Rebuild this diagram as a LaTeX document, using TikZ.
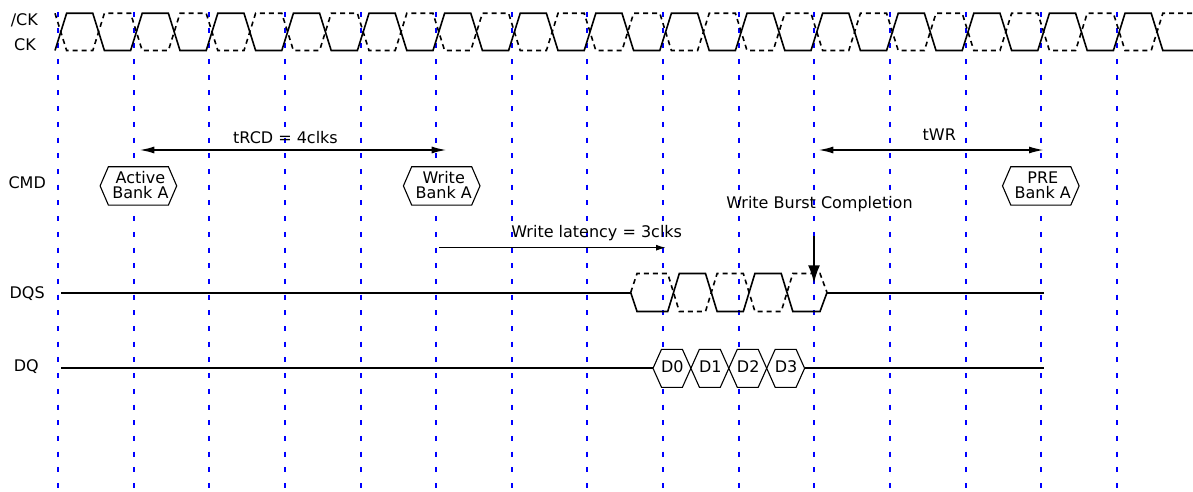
\documentclass[tikz,border=0pt]{standalone}
\usepackage{fontspec}
\setmainfont{DejaVu Sans}
\usetikzlibrary{arrows.meta}
\begin{document}
\begin{tikzpicture}[x=1pt,y=-1pt,
  gridline/.style={draw=blue, line width=2pt, dash pattern=on 5pt off 10.7pt},
  wave/.style={line width=1.6pt, line join=miter},
  wavedash/.style={wave, dash pattern=on 5pt off 4pt},
  flat/.style={line width=2pt},
  hexbox/.style={draw, line width=1.1pt, fill=white, line join=miter},
  lbl/.style={inner sep=0pt, anchor=base, font=\fontsize{16}{15}\selectfont},
  hextext/.style={inner sep=0pt, anchor=center, align=center, font=\fontsize{16}{15}\selectfont},
  dimarrow/.style={line width=1.8pt, {Latex[length=15pt,width=7pt]}-{Latex[length=15pt,width=7pt]}},
  onearrow/.style={line width=1.3pt, -{Latex[length=10pt,width=6pt]}},
  downarrow/.style={line width=2pt, -{Latex[length=18pt,width=12pt]}}
]
\useasboundingbox (0,0) rectangle (1193,492);
\fill[white] (0,0) rectangle (1193,492);

% grid lines
\foreach \k in {0,...,14}{
  \coordinate (gt\k) at ({58+75.64*\k},12);
  \coordinate (gb\k) at ({58+75.64*\k},492);
  \draw[gridline] (gt\k) -- (gb\k);
}

% clocks
\def\Tp{75.6}\def\rz{60.8}\def\hw{5.8}\def\hi{13.3}\def\lo{50.5}
\coordinate (ckS) at (55,\lo);
\coordinate (ckE) at (1193,\lo);
\coordinate (nckS) at (55,\hi);
\coordinate (nckE) at (1193,\hi);
\draw[wave] (ckS) \foreach \k in {0,...,14}{
   -- ({\rz+\Tp*\k+\hw},\hi) -- ({\rz+\Tp*\k+37.8-\hw},\hi)
   -- ({\rz+\Tp*\k+37.8+\hw},\lo) -- ({\rz+\Tp*(\k+1)-\hw},\lo) } -- (ckE);
\draw[wavedash] (nckS) \foreach \k in {0,...,14}{
   -- ({\rz+\Tp*\k+\hw},\lo) -- ({\rz+\Tp*\k+37.8-\hw},\lo)
   -- ({\rz+\Tp*\k+37.8+\hw},\hi) -- ({\rz+\Tp*(\k+1)-\hw},\hi) } -- (nckE);

% labels
\node[lbl] (lnck) at (24.3,25.5) {/CK};
\node[lbl] (lck) at (25,50.8) {CK};
\node[lbl] (lcmd) at (27.2,188.7) {CMD};
\node[lbl] (ldqs) at (27.2,298.5) {DQS};
\node[lbl] (ldq) at (26.3,371.5) {DQ};

% DQS
\def\dm{292.5}\def\dh{273.5}\def\dl{311.5}
\coordinate (dqsS) at (61,\dm);
\coordinate (dqsA) at (630.7,\dm);
\coordinate (dqsB) at (827,\dm);
\coordinate (dqsE) at (1044,\dm);
\draw[flat] (dqsS) -- (dqsA);
\draw[wave] (dqsA) -- (637,\dl) -- (667.7,\dl) -- (679.3,\dh) -- (705.5,\dh) -- (717.1,\dl)
  -- (743.3,\dl) -- (754.9,\dh) -- (781.2,\dh) -- (792.8,\dl) -- (820,\dl) -- (dqsB);
\draw[wavedash] (dqsA) -- (637,\dh) -- (667.7,\dh) -- (679.3,\dl) -- (705.5,\dl) -- (717.1,\dh)
  -- (743.3,\dh) -- (754.9,\dl) -- (781.2,\dl) -- (792.8,\dh) -- (820,\dh) -- (dqsB);
\draw[flat] (dqsB) -- (dqsE);

% DQ
\def\qm{368.3}
\coordinate (dqS) at (61,\qm);
\coordinate (dqA) at (653,\qm);
\coordinate (dqB) at (804.6,\qm);
\coordinate (dqE) at (1044,\qm);
\draw[flat] (dqS) -- (dqA);
\draw[flat] (dqB) -- (dqE);
\foreach \c in {0,...,3}{
  \coordinate (dt\c) at ({653+37.9*\c},\qm);
  \path[hexbox] (dt\c) -- ++(8.5,-19) -- ++(20.9,0) -- ++(8.5,19) -- ++(-8.5,19) -- ++(-20.9,0) -- cycle;
  \node[lbl] (d\c) at ({653+37.9*\c+19.4},372.5) {D\c};
}

% commands
\coordinate (hAct) at (138.4,185.9);
\coordinate (hWr) at (441.7,185.9);
\coordinate (hPre) at (1040.8,185.9);
\foreach \h in {hAct,hWr,hPre}{
  \path[hexbox] (\h) ++(-38.3,0) -- ++(8.3,-19.2) -- ++(60,0) -- ++(8.3,19.2) -- ++(-8.3,19.2) -- ++(-60,0) -- cycle;
}
\node[hextext] (tAct) at (140.4,184.9) {Active\\Bank A};
\node[hextext] (tWr) at (443.7,184.9) {Write\\Bank A};
\node[hextext] (tPre) at (1042.8,184.9) {PRE\\Bank A};

% timing arrows
\coordinate (trcdL) at (139.3,150);
\coordinate (trcdR) at (446.7,150);
\draw[dimarrow] (trcdL) -- (trcdR);
\node[lbl] (trcdT) at (285.5,143.7) {tRCD = 4clks};

\coordinate (twrL) at (818.3,150);
\coordinate (twrR) at (1044,150);
\draw[dimarrow] (twrL) -- (twrR);
\node[lbl] (twrT) at (939.3,140.9) {tWR};

\coordinate (wlL) at (439.3,247.7);
\coordinate (wlR) at (666,247.7);
\draw[onearrow] (wlL) -- (wlR);
\node[lbl] (wlT) at (596.7,237.5) {Write latency = 3clks};

\node[lbl] (wbcT) at (819.5,208.9) {Write Burst Completion};
\coordinate (wbcA) at (814,236);
\coordinate (wbcB) at (814,283.3);
\draw[downarrow] (wbcA) -- (wbcB);
\end{tikzpicture}
\end{document}
